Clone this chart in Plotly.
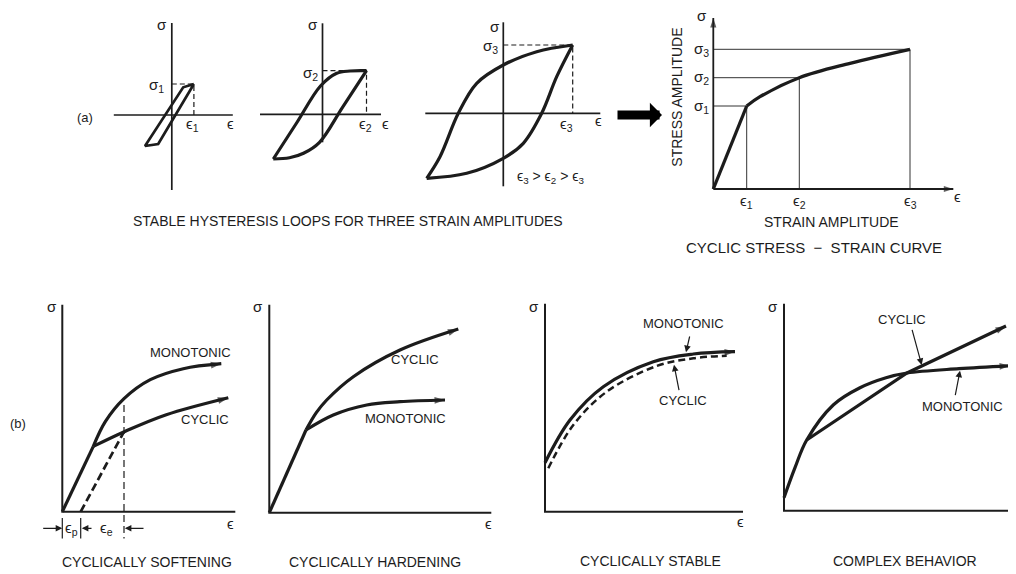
import plotly.graph_objects as go

REF_W, REF_H = 1016, 574
PAGE_MARGIN = 8                      # default body margin of the written page
FIG_W, FIG_H = REF_W - PAGE_MARGIN, REF_H - PAGE_MARGIN
PX = 10.0  # pixels per data unit in every panel
INK = "#1c1c1c"
FONT = "Liberation Sans, Arial, sans-serif"

# ---------------- DATA (relative units; origin = axes crossing of each panel, y up) ----------------
# (a) stable hysteresis loops
A1_AXIS_X = [-5.8, 6.1]
A1_AXIS_Y = [-7.5, 9.2]
A1_LOOP_X = [2.21, 1.14, -2.68, -1.36, 2.21]
A1_LOOP_Y = [3.10, 2.77, -3.10, -2.90, 3.10]
A1_AMP = (2.21, 3.10)

A2_AXIS_X = [-6.25, 5.85]
A2_AXIS_Y = [-2.8, 9.1]
A2_UP_X = [-4.92, -2.56, -0.20, 1.42, 2.75, 4.40]
A2_UP_Y = [-4.47, -0.82, 2.83, 4.10, 4.33, 4.36]
A2_LO_X = [4.40, 2.00, -0.30, -1.90, -3.30, -4.92]
A2_LO_Y = [4.36, 0.70, -2.80, -3.90, -4.35, -4.47]
A2_AMP = (4.40, 4.36)

A3_AXIS_X = [-7.8, 9.7]
A3_AXIS_Y = [-7.3, 9.1]
A3_UP_X = [-7.66, -6.33, -4.50, -2.66, 0.00, 3.34, 6.94]
A3_UP_Y = [-6.50, -4.34, 0.00, 3.00, 4.83, 6.16, 6.83]
A3_LO_X = [6.94, 5.34, 3.84, 2.00, 0.00, -3.66, -7.66]
A3_LO_Y = [6.83, 3.66, 0.00, -3.00, -4.50, -6.00, -6.50]
A3_AMP = (6.94, 6.83)

# cyclic stress-strain curve
A4_AXIS_X = [0.0, 24.0]
A4_AXIS_Y = [0.0, 17.1]
A4_EPS = [3.34, 8.60, 19.67]
A4_SIG = [8.30, 11.13, 13.97]
A4_CURVE_X = [0.0, 3.34, 4.67, 8.60, 13.67, 19.67]
A4_CURVE_Y = [0.0, 8.30, 9.23, 11.13, 12.57, 13.97]

# (b) cyclically softening
B1_AXIS_X = [0.0, 17.3]
B1_AXIS_Y = [0.0, 20.7]
B1_ELASTIC_X = [0.0, 3.10]
B1_ELASTIC_Y = [0.0, 6.53]
B1_MONO_X = [3.10, 4.30, 6.17, 8.80, 12.10, 15.90]
B1_MONO_Y = [6.53, 9.00, 11.30, 13.20, 14.30, 14.80]
B1_CYC_X = [3.10, 6.20, 10.40, 16.60]
B1_CYC_Y = [6.53, 8.00, 9.70, 11.40]
B1_UNLOAD_X = [1.84, 6.17]
B1_UNLOAD_Y = [0.0, 8.0]
B1_MARK_X = [6.17, 6.17]
B1_MARK_Y = [10.67, -2.67]

# (b) cyclically hardening
B2_AXIS_X = [0.0, 22.2]
B2_AXIS_Y = [0.0, 20.8]
B2_ELASTIC_X = [0.0, 3.67]
B2_ELASTIC_Y = [0.0, 8.27]
B2_CYC_X = [3.67, 4.70, 5.74, 8.40, 13.07, 18.90]
B2_CYC_Y = [8.27, 10.00, 11.27, 13.60, 16.27, 18.37]
B2_MONO_X = [3.67, 6.40, 9.74, 13.07, 17.57]
B2_MONO_Y = [8.27, 9.77, 10.77, 11.10, 11.27]

# (b) cyclically stable
B3_AXIS_X = [0.0, 19.8]
B3_AXIS_Y = [0.0, 20.8]
B3_MONO_X = [0.00, 2.50, 5.83, 10.83, 14.83, 19.00]
B3_MONO_Y = [4.90, 9.17, 12.50, 15.00, 15.77, 16.00]
B3_CYC_X = [0.33, 2.83, 6.17, 11.17, 14.83, 18.17]
B3_CYC_Y = [4.34, 8.67, 12.00, 14.57, 15.34, 15.60]

# (b) complex behavior
B4_AXIS_X = [0.0, 23.1]
B4_AXIS_Y = [0.0, 20.7]
B4_MONO_X = [0.00, 1.10, 2.27, 4.95, 7.60, 10.20, 12.30, 17.50, 22.60]
B4_MONO_Y = [1.30, 4.30, 7.07, 10.60, 12.30, 13.30, 13.77, 14.20, 14.50]
B4_CYC_X = [2.27, 12.30, 22.20]
B4_CYC_Y = [7.07, 13.77, 18.47]

# ---------------- PANEL PLACEMENT (reference-pixel boxes and axis-origin pixels) ----------------
PANELS = {
    1: dict(box=(100, 10, 245, 200), origin=(171.8, 115.0)),
    2: dict(box=(250, 10, 395, 200), origin=(322.5, 114.3)),
    3: dict(box=(400, 10, 612, 200), origin=(503.3, 113.3)),
    4: dict(box=(660, 10, 1000, 235), origin=(713.3, 189.0)),
    5: dict(box=(10, 295, 250, 545), origin=(62.3, 511.7)),
    6: dict(box=(255, 295, 505, 545), origin=(269.3, 512.7)),
    7: dict(box=(525, 295, 762, 545), origin=(545.0, 511.7)),
    8: dict(box=(765, 295, 1016, 545), origin=(784.0, 510.7)),
}


def fx(px):
    return (px - PAGE_MARGIN) / FIG_W


def fy(py):
    return 1 - (py - PAGE_MARGIN) / FIG_H


fig = go.Figure()


def ax_ids(n):
    s = "" if n == 1 else str(n)
    return "x" + s, "y" + s


for n, p in PANELS.items():
    left, top, right, bottom = p["box"]
    ox, oy = p["origin"]
    xid, yid = ax_ids(n)
    fig.layout["xaxis" + xid[1:]] = dict(domain=[fx(left), fx(right)],
                                         range=[(left - ox) / PX, (right - ox) / PX],
                                         visible=False, anchor=yid, fixedrange=True)
    fig.layout["yaxis" + yid[1:]] = dict(domain=[fy(bottom), fy(top)],
                                         range=[(oy - bottom) / PX, (oy - top) / PX],
                                         visible=False, anchor=xid, fixedrange=True)

MAIN_W = 3.2


def line(n, x, y, width=MAIN_W, dash=None, shape="linear", color=INK):
    xid, yid = ax_ids(n)
    fig.add_trace(go.Scatter(x=x, y=y, mode="lines",
                             line=dict(color=color, width=width, dash=dash, shape=shape,
                                       smoothing=1.0),
                             xaxis=xid, yaxis=yid, hoverinfo="skip", showlegend=False,
                             cliponaxis=False))


def head(n, x, y, size=11):
    xid, yid = ax_ids(n)
    fig.add_trace(go.Scatter(x=x[-2:], y=y[-2:], mode="markers",
                             marker=dict(symbol="arrow", size=[0, size], angleref="previous",
                                         color=INK, line=dict(width=0)),
                             xaxis=xid, yaxis=yid, hoverinfo="skip", showlegend=False,
                             cliponaxis=False))


def pointer(n, tail, tip):
    xid, yid = ax_ids(n)
    fig.add_annotation(x=tip[0], y=tip[1], ax=tail[0], ay=tail[1], xref=xid, yref=yid,
                       axref=xid, ayref=yid, text="", showarrow=True, arrowhead=2,
                       arrowsize=1.1, arrowwidth=1.2, arrowcolor=INK)


def label(px, py, text, size=13, angle=0):
    fig.add_annotation(x=fx(px), y=fy(py), xref="paper", yref="paper", text=text,
                       showarrow=False, xanchor="center", yanchor="middle", textangle=angle,
                       font=dict(family=FONT, size=size, color=INK))


DASH_THIN = "5px,3px"
SUB = lambda b, s: f"{b}<sub>{s}</sub>"
SIG, EPS = "σ", "ϵ"
GK = 15      # size of greek symbol labels
CAP = 14     # size of captions
NB = "\u00a0"

# ---------------- (a) loops ----------------
for n, ax_x, ax_y in [(1, A1_AXIS_X, A1_AXIS_Y), (2, A2_AXIS_X, A2_AXIS_Y), (3, A3_AXIS_X, A3_AXIS_Y)]:
    line(n, ax_x, [0, 0], width=1.7)
    line(n, [0, 0], ax_y, width=1.7)

for n, amp in [(1, A1_AMP), (2, A2_AMP), (3, A3_AMP)]:
    line(n, [0, amp[0], amp[0]], [amp[1], amp[1], 0], width=1.2, dash=DASH_THIN)

line(1, A1_LOOP_X, A1_LOOP_Y, width=2.7)
line(2, A2_UP_X, A2_UP_Y, shape="spline")
line(2, A2_LO_X, A2_LO_Y, shape="spline")
line(3, A3_UP_X, A3_UP_Y, shape="spline")
line(3, A3_LO_X, A3_LO_Y, shape="spline")

# ---------------- cyclic stress-strain curve ----------------
for e, s in zip(A4_EPS, A4_SIG):
    line(4, [0, e, e], [s, s, 0], width=1.0, color="#333333")
line(4, A4_AXIS_X, [0, 0], width=1.8)
head(4, A4_AXIS_X, [0, 0], size=10)
line(4, [0, 0], A4_AXIS_Y, width=1.8)
head(4, [0, 0], A4_AXIS_Y, size=10)
line(4, A4_CURVE_X[:2], A4_CURVE_Y[:2], width=3.3)
line(4, A4_CURVE_X[1:], A4_CURVE_Y[1:], width=3.3, shape="spline")

# ---------------- (b) panels ----------------
for n, axx, axy in [(5, B1_AXIS_X, B1_AXIS_Y), (6, B2_AXIS_X, B2_AXIS_Y),
                    (7, B3_AXIS_X, B3_AXIS_Y), (8, B4_AXIS_X, B4_AXIS_Y)]:
    line(n, [0, 0, axx[1]], [axy[1], 0, 0], width=2.0)

# softening
line(5, B1_ELASTIC_X, B1_ELASTIC_Y)
line(5, B1_MONO_X, B1_MONO_Y, shape="spline")
head(5, B1_MONO_X, B1_MONO_Y)
line(5, B1_CYC_X, B1_CYC_Y, shape="spline")
head(5, B1_CYC_X, B1_CYC_Y)
line(5, B1_UNLOAD_X, B1_UNLOAD_Y, width=2.7, dash="8px,4px")
line(5, B1_MARK_X, B1_MARK_Y, width=1.2, dash="7px,4px")
for tx in [0.0, B1_UNLOAD_X[0]]:
    line(5, [tx, tx], [-0.63, -2.67], width=1.2)
pointer(5, (-2.06, -1.66), (0.0, -1.66))
pointer(5, (3.07, -1.66), (1.95, -1.66))
pointer(5, (8.27, -1.66), (6.25, -1.66))

# hardening
line(6, B2_ELASTIC_X, B2_ELASTIC_Y)
line(6, B2_CYC_X, B2_CYC_Y, shape="spline")
head(6, B2_CYC_X, B2_CYC_Y)
line(6, B2_MONO_X, B2_MONO_Y, shape="spline")
head(6, B2_MONO_X, B2_MONO_Y)

# stable
line(7, B3_MONO_X, B3_MONO_Y, shape="spline")
head(7, B3_MONO_X, B3_MONO_Y)
line(7, B3_CYC_X, B3_CYC_Y, width=2.5, shape="spline", dash="7px,4px")
pointer(7, (14.5, 17.67), (14.1, 15.95))
pointer(7, (13.43, 12.0), (12.9, 14.7))

# complex
line(8, B4_MONO_X, B4_MONO_Y, shape="spline")
head(8, B4_MONO_X, B4_MONO_Y)
line(8, B4_CYC_X, B4_CYC_Y)
head(8, B4_CYC_X, B4_CYC_Y)
pointer(8, (12.77, 18.24), (13.77, 14.57))
pointer(8, (17.1, 11.4), (17.6, 14.0))

# big arrow between (a) loops and cyclic curve
fig.add_annotation(x=fx(662), y=fy(115), xref="paper", yref="paper", ax=-46, ay=0,
                   text="", showarrow=True, arrowhead=1, arrowsize=0.45, arrowwidth=9,
                   arrowcolor="#000000")

# ---------------- TEXT ----------------
label(85, 117, "(a)", size=13)
label(161.8, 25, SIG, GK)
label(156.4, 86, SUB(SIG, 1), GK)
label(192.9, 124, SUB(EPS, 1), GK)
label(230.7, 123, EPS, GK)
label(312.5, 25, SIG, GK)
label(310, 73, SUB(SIG, 2), GK)
label(365.4, 124, SUB(EPS, 2), GK)
label(385.7, 123, EPS, GK)
label(495, 26, SIG, GK)
label(490, 46, SUB(SIG, 3), GK)
label(566, 124, SUB(EPS, 3), GK)
label(598, 121, EPS, GK)
label(550, 177, f"{SUB(EPS, 3)} &gt; {SUB(EPS, 2)} &gt; {SUB(EPS, 3)}", 14)
label(347.5, 221, "STABLE HYSTERESIS LOOPS FOR THREE STRAIN AMPLITUDES", CAP)

label(702, 16, SIG, GK)
label(701.7, 49.3, SUB(SIG, 3), GK)
label(701.7, 77.7, SUB(SIG, 2), GK)
label(701.7, 106, SUB(SIG, 1), GK)
label(746.7, 201, SUB(EPS, 1), GK)
label(799.3, 201, SUB(EPS, 2), GK)
label(910, 201, SUB(EPS, 3), GK)
label(957, 197, EPS, GK)
label(676.7, 97, "STRESS AMPLITUDE", CAP, angle=-90)
label(831.7, 221.7, "STRAIN AMPLITUDE", CAP)
label(814, 247, f"CYCLIC STRESS{NB}{NB}−{NB}{NB}STRAIN CURVE", 15)

label(18.3, 423.3, "(b)", 13)
label(51.7, 306.7, SIG, GK)
label(230, 523, EPS, GK)
label(190, 352.7, "MONOTONIC")
label(205, 419.3, "CYCLIC")
label(71.7, 528.3, SUB(EPS, "p"), GK)
label(106, 528.3, SUB(EPS, "e"), GK)
label(146.7, 561.7, "CYCLICALLY SOFTENING", CAP)

label(258, 306, SIG, GK)
label(488, 523, EPS, GK)
label(415, 359.3, "CYCLIC")
label(405, 418.3, "MONOTONIC")
label(375, 561.7, "CYCLICALLY HARDENING", CAP)

label(534, 306.7, SIG, GK)
label(740, 521.7, EPS, GK)
label(683.3, 323.3, "MONOTONIC")
label(682.7, 400.7, "CYCLIC")
label(650, 560.5, "CYCLICALLY STABLE", CAP)

label(773.3, 306, SIG, GK)
label(901.7, 319, "CYCLIC")
label(962.7, 406, "MONOTONIC")
label(905, 560.5, "COMPLEX BEHAVIOR", CAP)

fig.update_layout(width=FIG_W, height=FIG_H, margin=dict(l=0, r=0, t=0, b=0),
                  paper_bgcolor="white", plot_bgcolor="rgba(0,0,0,0)", showlegend=False)

fig.write_html("out.html")
